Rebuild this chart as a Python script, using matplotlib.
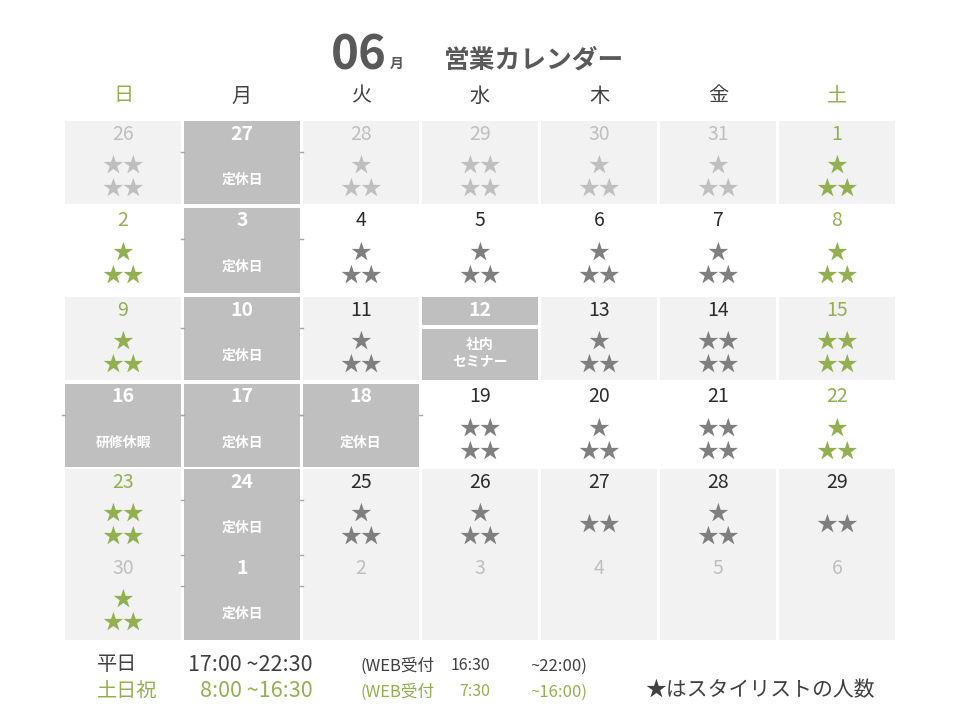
import matplotlib
matplotlib.use("Agg")
import matplotlib.pyplot as plt
from matplotlib.patches import Rectangle

plt.rcParams['font.family'] = ['Noto Sans CJK JP', 'DejaVu Sans']

# calendar data
month_label = '06'
title_text = '営業カレンダー'
weekdays = ['日', '月', '火', '水', '木', '金', '土']
weekday_style = 'GkkkkkG'

days = [
    [26, 27, 28, 29, 30, 31, 1],
    [2, 3, 4, 5, 6, 7, 8],
    [9, 10, 11, 12, 13, 14, 15],
    [16, 17, 18, 19, 20, 21, 22],
    [23, 24, 25, 26, 27, 28, 29],
    [30, 1, 2, 3, 4, 5, 6],
]
# colour code of the date number: g grey, G green, k dark, w white
num_style = ['gwggggG', 'GwkkkkG', 'GwkwkkG', 'wwwkkkG', 'Gwkkkkk', 'gwggggg']
# colour code of the stars ('.' = none)
star_style = ['g.ggggG', 'G.kkkkG', 'G.k.kkG', '...kkkG', 'G.kkkkk', 'G......']
stars_top = [
    [2, 0, 1, 2, 1, 1, 1],
    [1, 0, 1, 1, 1, 1, 1],
    [1, 0, 1, 0, 1, 2, 2],
    [0, 0, 0, 2, 1, 2, 1],
    [2, 0, 1, 1, 0, 1, 0],
    [1, 0, 0, 0, 0, 0, 0],
]
stars_bottom = [
    [2, 0, 2, 2, 2, 2, 2],
    [2, 0, 2, 2, 2, 2, 2],
    [2, 0, 2, 0, 2, 2, 2],
    [0, 0, 0, 2, 2, 2, 2],
    [2, 0, 2, 2, 2, 2, 2],
    [2, 0, 0, 0, 0, 0, 0],
]
row_bg = ['#f2f2f2', '#ffffff', '#f2f2f2', '#ffffff', '#f2f2f2', '#f2f2f2']
closed = {
    (0, 1): '定休日', (1, 1): '定休日', (2, 1): '定休日',
    (3, 0): '研修休暇', (3, 1): '定休日', (3, 2): '定休日',
    (4, 1): '定休日', (5, 1): '定休日',
}
seminar = {(2, 3): '社内\nセミナー'}

hours_weekday = ['平日', '17:00 ~22:30', '(WEB受付', '16:30', '~22:00)']
hours_holiday = ['土日祝', '8:00 ~16:30', '(WEB受付', '7:30', '~16:00)']
star_note = '★はスタイリストの人数'

colors = {'g': '#bfbfbf', 'G': '#92b050', 'k': '#2b2b2b', 'w': '#ffffff'}
star_colors = {'g': '#bfbfbf', 'G': '#92b050', 'k': '#7f7f7f'}
dark_cell = '#bfbfbf'

# layout
left, col_pitch, cell_w = 65, 119.0, 116.0
gap = col_pitch - cell_w
row_tops = [121, 208, 297, 384, 469, 555]
row_h = [83, 85, 83, 83, 86, 85]

fig = plt.figure(figsize=(9.6, 7.2), dpi=100)
ax = fig.add_axes([0, 0, 1, 1])
ax.set_xlim(0, 960)
ax.set_ylim(720, 0)
ax.axis('off')

# title
ax.text(359, 56, month_label, fontsize=34, fontweight='bold', color='#595959',
        ha='center', va='center')
ax.text(397, 64, '月', fontsize=10, fontweight='bold', color='#595959',
        ha='center', va='center')
ax.text(534, 60, title_text, fontsize=18.5, fontweight='bold', color='#595959',
        ha='center', va='center')

for c, (wd, st) in enumerate(zip(weekdays, weekday_style)):
    cx = left + c * col_pitch + cell_w / 2
    ax.text(cx, 96, wd, fontsize=14.5, color=colors[st] if st == 'G' else '#404040',
            ha='center', va='center')

for r, week in enumerate(days):
    top, h = row_tops[r], row_h[r]
    for c, d in enumerate(week):
        x0 = left + c * col_pitch
        cx = x0 + cell_w / 2
        bg = dark_cell if (r, c) in closed else row_bg[r]
        if (r, c) in seminar:
            ax.add_patch(Rectangle((x0, top), cell_w, 28, color=dark_cell, lw=0))
            ax.add_patch(Rectangle((x0, top + 32), cell_w, h - 32, color=dark_cell, lw=0))
            ax.text(cx, top + 13, str(d), fontsize=14, fontweight='bold', color='white',
                    ha='center', va='center')
            ax.text(cx, top + 56, seminar[(r, c)], fontsize=10, fontweight='bold',
                    color='white', ha='center', va='center', linespacing=1.15)
            continue
        ax.add_patch(Rectangle((x0, top), cell_w, h, color=bg, lw=0))
        if (r, c) in closed:
            # small table border ticks in the column gaps
            tick_y = [top + 31] + ([top] if r == 5 else [])
            for xx in (x0 - gap, x0 + cell_w):
                for ty in tick_y:
                    ax.plot([xx, xx + gap], [ty, ty], color='#a6a6a6', lw=1)
        ns = num_style[r][c]
        ax.text(cx, top + 13, str(d), fontsize=14, color=colors[ns],
                fontweight='bold' if ns == 'w' else 'normal',
                ha='center', va='center')
        if (r, c) in closed:
            ax.text(cx, top + 59, closed[(r, c)], fontsize=10, fontweight='bold',
                    color='white', ha='center', va='center')
            continue
        st = star_style[r][c]
        if st == '.':
            continue
        sc = star_colors[st]
        nt, nb = stars_top[r][c], stars_bottom[r][c]
        if nt == 0:
            ax.text(cx, top + 56, '★' * nb, fontsize=15, color=sc,
                    ha='center', va='center')
        else:
            ax.text(cx, top + 45, '★' * nt, fontsize=15, color=sc,
                    ha='center', va='center')
            ax.text(cx, top + 68, '★' * nb, fontsize=15, color=sc,
                    ha='center', va='center')

# footer: opening hours
for line, y, col in ((hours_weekday, 665, '#404040'), (hours_holiday, 691, '#92b050')):
    ax.text(97, y, line[0], fontsize=14.5, color=col, ha='left', va='center')
    ax.text(313, y, line[1], fontsize=15.5, color=col, ha='right', va='center')
    ax.text(360, y + 1, line[2], fontsize=12, color=col, ha='left', va='center')
    ax.text(490, y + 1, line[3], fontsize=11.5, color=col, ha='right', va='center')
    ax.text(530, y + 1, line[4], fontsize=12, color=col, ha='left', va='center')

ax.text(645, 690, star_note, fontsize=15, color='#404040', ha='left', va='center')

fig.savefig('out.png', dpi=100)
